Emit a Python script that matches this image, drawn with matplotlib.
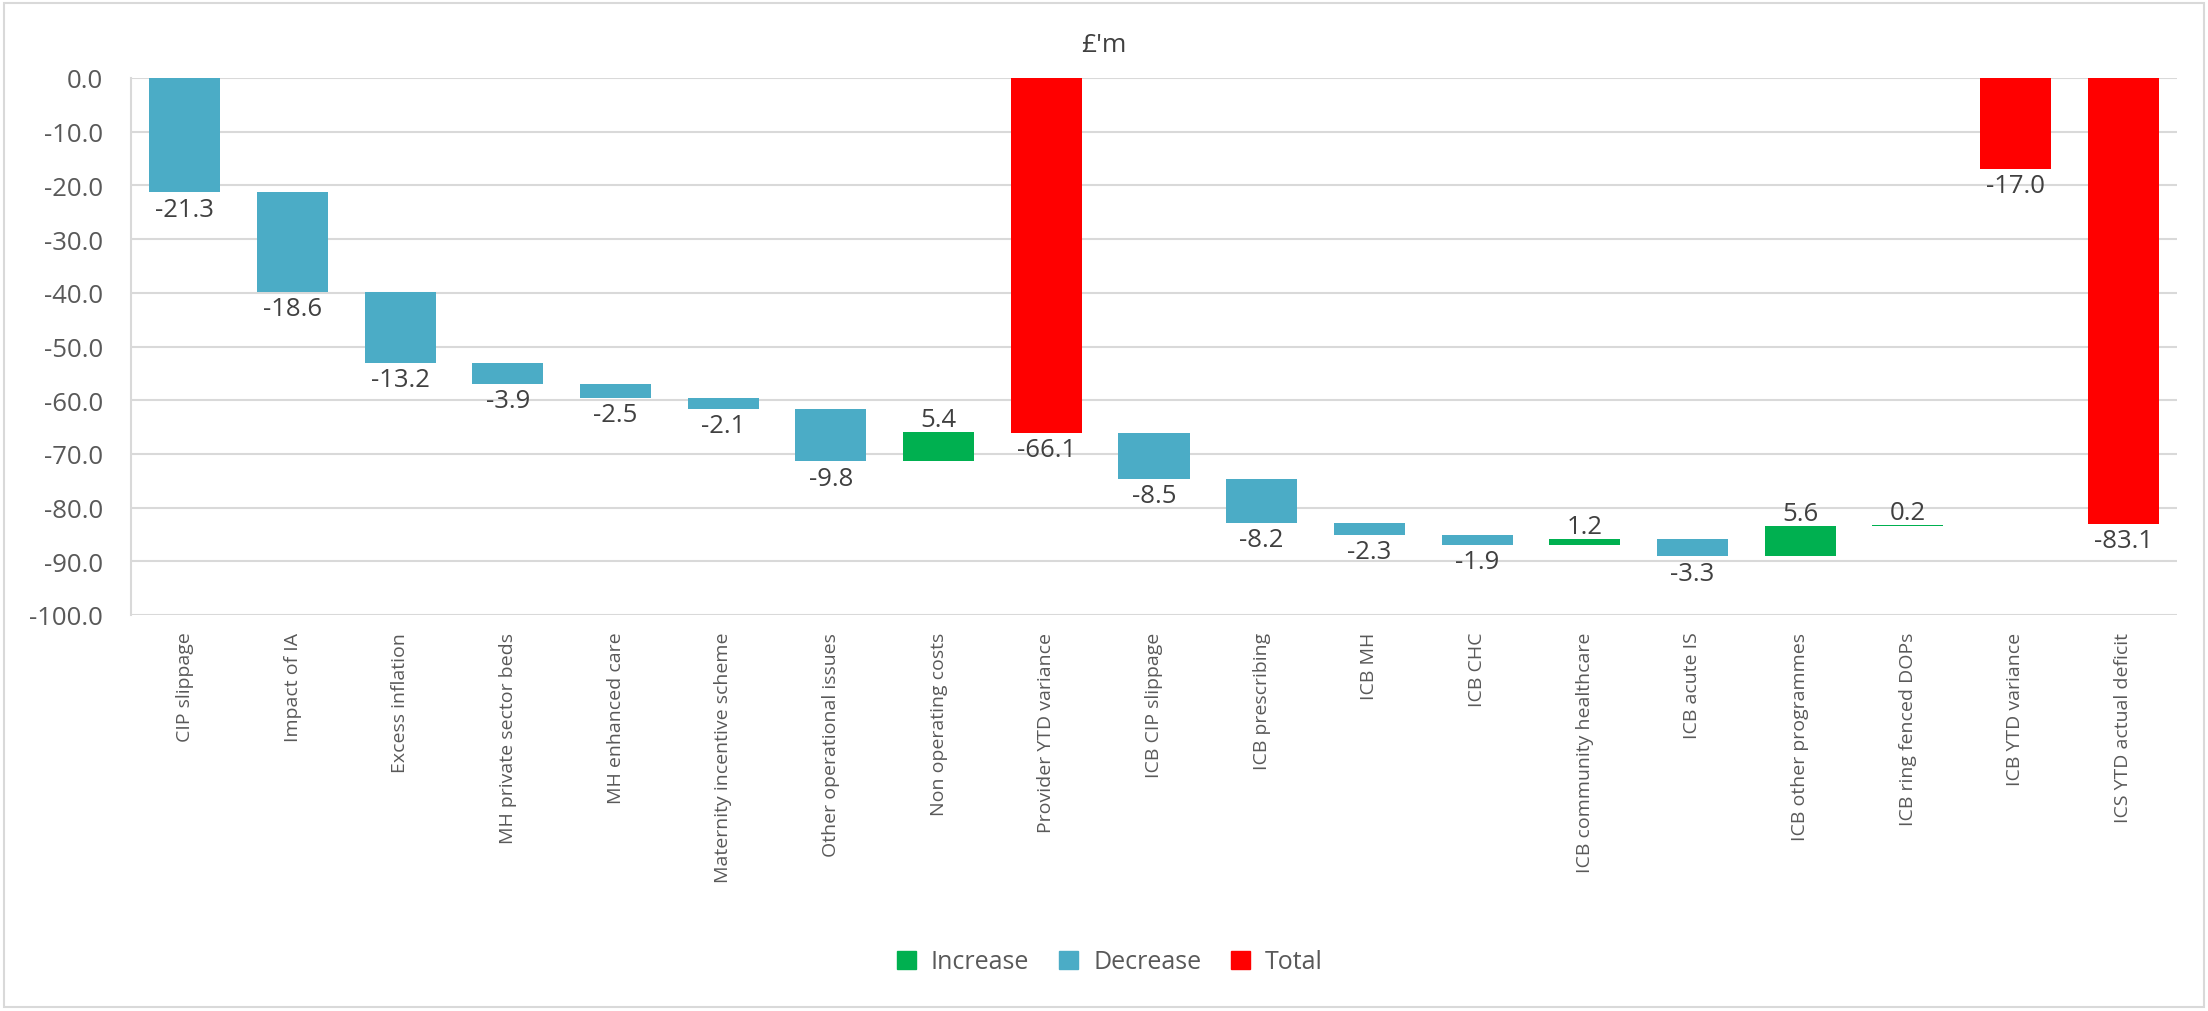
import matplotlib
matplotlib.use("Agg")
import matplotlib.pyplot as plt
from matplotlib.patches import Patch, Rectangle

plt.rcParams['font.family'] = ['Open Sans', 'DejaVu Sans']

# waterfall items, in order
categories = [
    'CIP slippage', 'Impact of IA', 'Excess inflation', 'MH private sector beds',
    'MH enhanced care', 'Maternity incentive scheme', 'Other operational issues',
    'Non operating costs', 'Provider YTD variance', 'ICB CIP slippage',
    'ICB prescribing', 'ICB MH', 'ICB CHC', 'ICB community healthcare',
    'ICB acute IS', 'ICB other programmes', 'ICB ring fenced DOPs',
    'ICB YTD variance', 'ICS YTD actual deficit',
]
values = [-21.3, -18.6, -13.2, -3.9, -2.5, -2.1, -9.8, 5.4, -66.1,
          -8.5, -8.2, -2.3, -1.9, 1.2, -3.3, 5.6, 0.2, -17.0, -83.1]
is_total = [False] * 8 + [True] + [False] * 8 + [True, True]

col_inc = '#00B050'
col_dec = '#4BACC6'
col_tot = '#FF0000'
txt_col = '#404040'

W, H = 2208, 1012
fig = plt.figure(figsize=(W / 100, H / 100), dpi=100)
ax = fig.add_axes([131 / W, 1 - 616 / H, (2177 - 131) / W, (616 - 79) / H])

running = 0.0
for i, (v, tot) in enumerate(zip(values, is_total)):
    if tot:
        bottom = 0.0
        colour = col_tot
        running = v
        lab_y, va = v, 'top'
    else:
        bottom = running
        colour = col_inc if v > 0 else col_dec
        running = running + v
        if v > 0:
            lab_y, va = running, 'bottom'
        else:
            lab_y, va = running, 'top'
    ax.bar(i, v, bottom=bottom, width=0.66, color=colour, zorder=3)
    off = -3 if va == 'top' else 0
    ax.annotate(f'{v:.1f}', (i, lab_y), xytext=(0, off), textcoords='offset points',
                ha='center', va=va, fontsize=18.5, color=txt_col, zorder=4)

ax.set_xlim(-0.5, len(categories) - 0.5)
ax.set_ylim(-100, 0)
ax.set_yticks(range(-100, 1, 10))
ax.set_yticklabels([f'{t:.1f}' for t in range(-100, 1, 10)])
ax.set_xticks(range(len(categories)))
ax.set_xticklabels(categories, rotation=90, va='top', ha='center')
ax.tick_params(axis='y', length=0, pad=20, labelsize=18.5, labelcolor='#595959')
ax.tick_params(axis='x', length=0, pad=12, labelsize=14, labelcolor='#595959')
ax.grid(axis='y', color='#D9D9D9', lw=1.5, zorder=0)
for s in ['top', 'right', 'bottom']:
    ax.spines[s].set_visible(False)
ax.spines['left'].set_color('#D9D9D9')
ax.spines['left'].set_linewidth(1.5)

fig.text(0.5, 1 - 46 / H, "£'m", ha='center', va='center', fontsize=19, color=txt_col)

handles = [Patch(color=col_inc, label='Increase'),
           Patch(color=col_dec, label='Decrease'),
           Patch(color=col_tot, label='Total')]
fig.legend(handles=handles, loc='center', bbox_to_anchor=(1110 / W, 1 - 963 / H), ncol=3,
           frameon=False, handlelength=0.75, handleheight=0.75, handletextpad=0.6,
           columnspacing=1.2, fontsize=18, labelcolor='#595959')

# light frame around the whole chart
fig.patches.append(Rectangle((4 / W, 4 / H), 1 - 8 / W, 1 - 8 / H, transform=fig.transFigure,
                             fill=False, ec='#D9D9D9', lw=1.5))

fig.savefig('out.png', dpi=100)
